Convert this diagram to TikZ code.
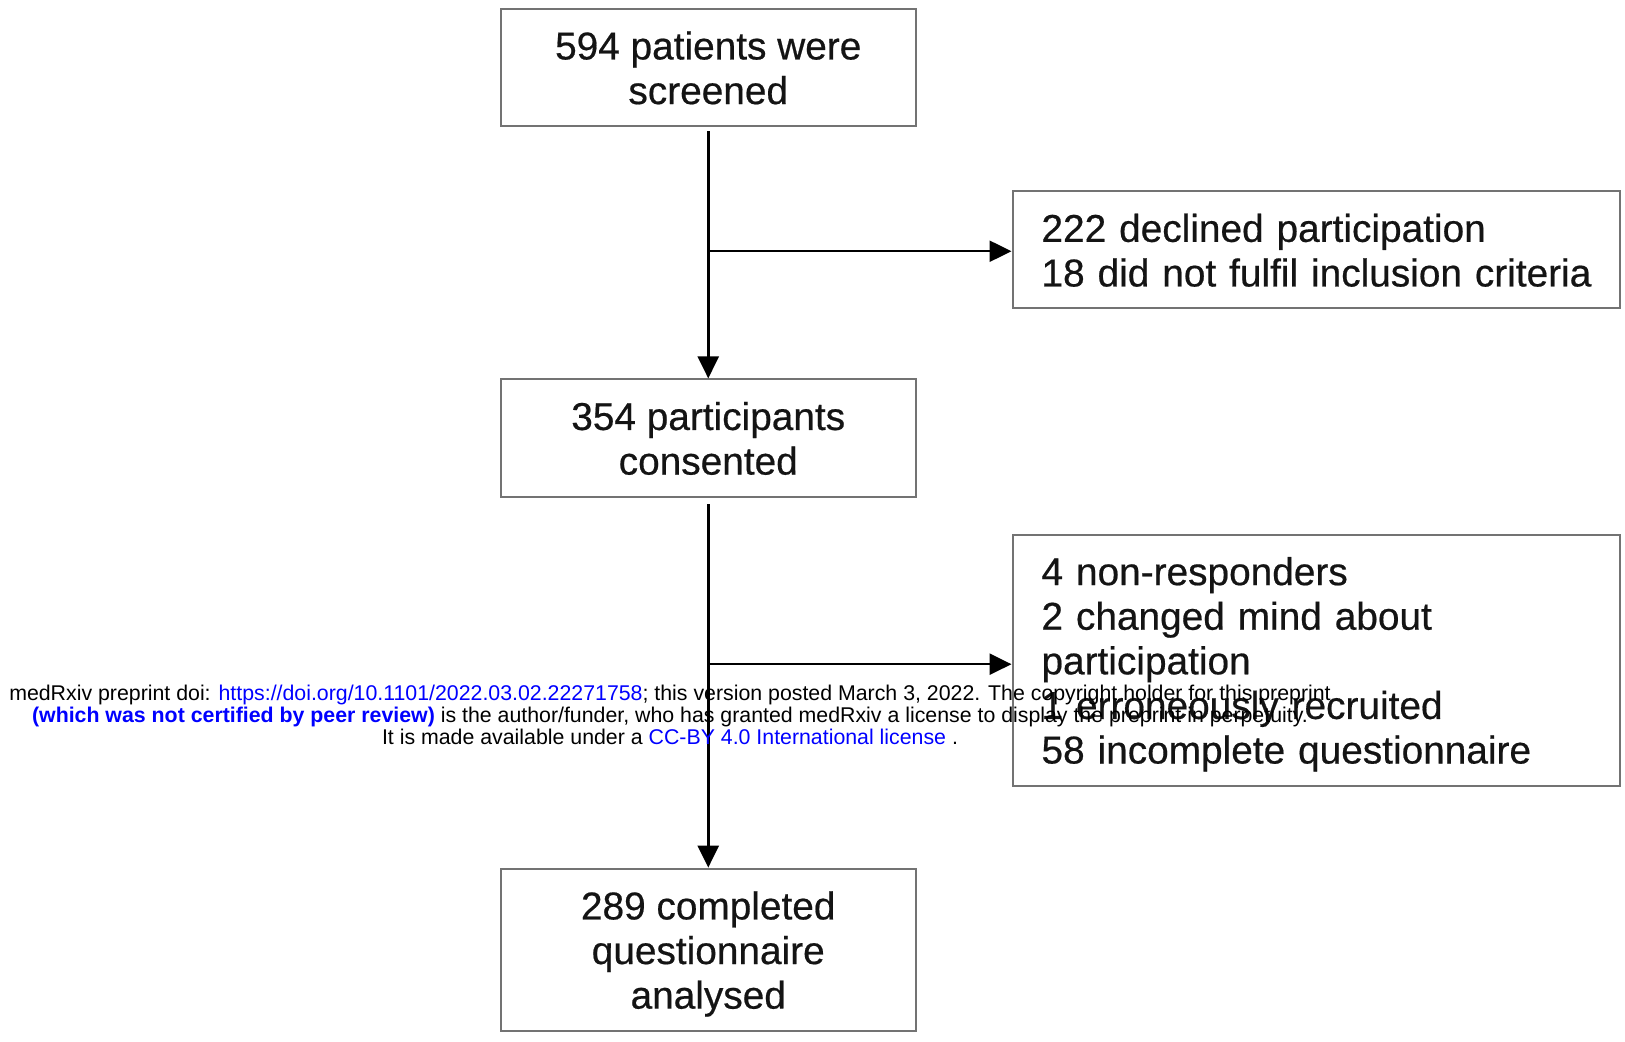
\documentclass[tikz,border=0pt]{standalone}
\usepackage{fontspec}
\setmainfont{Liberation Sans}
\newfontface\boxfont{Liberation Sans}[FakeBold=0.5]
\usetikzlibrary{arrows.meta}
\definecolor{linkblue}{RGB}{0,0,255}
\begin{document}
\begin{tikzpicture}[x=0.5pt,y=-0.5pt,
  box/.style={draw=black!55, line width=1pt, rectangle, inner sep=0pt,
    font=\boxfont\fontsize{19.4}{22.3}\selectfont, text=black!92},
  cbox/.style={box, minimum width=207.75pt, align=center},
  sbox/.style={box, minimum width=303.75pt, text width=274.75pt, align=left},
  flow/.style={line width=1.25pt, -{Triangle[length=11pt,width=10.5pt]}}]
\useasboundingbox (0,0) rectangle (1625,1042);
\fill[white] (0,0) rectangle (1625,1042);
\node[cbox, minimum height=58.5pt] (b1) at (708.25,67.9) {594 patients were\\screened};
\node[sbox, minimum height=58.5pt] (b2) at (1316.25,249.25) {\raisebox{-3pt}[\height][\depth]{\begin{tabular}{@{}l@{}}222 declined participation\\18 did not fulfil inclusion criteria\end{tabular}}};
\node[cbox, minimum height=59pt] (b3) at (708.25,438.4) {354 participants\\consented};
\node[sbox, minimum height=125.4pt] (b4) at (1316.25,660.2) {\raisebox{-2.6pt}[\height][\depth]{\begin{tabular}{@{}l@{}}4 non-responders\\2 changed mind about\\participation\\1 erroneously recruited\\58 incomplete questionnaire\end{tabular}}};
\node[cbox, minimum height=81.3pt] (b5) at (708.25,949.9) {\raisebox{-2.6pt}[\height][\depth]{\begin{tabular}{@{}c@{}}289 completed\\questionnaire\\analysed\end{tabular}}};
\coordinate (j2) at ([yshift=-1pt]b2.west);
\draw[flow, shorten <=2pt] (b1.south) -- (b3.north);
\draw[flow] (b1.south |- j2) -- (j2);
\draw[flow, shorten <=3pt] (b3.south) -- (b5.north);
\coordinate (j4) at ([yshift=-2pt]b4.west);
\draw[flow] (b3.south |- j4) -- (j4);
\node[align=center, font=\fontsize{10.66}{10.85}\selectfont, inner sep=0pt] (wm) at (670,715)
 {medRxiv preprint doi: \textcolor{linkblue}{https://doi.org/10.1101/2022.03.02.22271758}; this version posted March 3, 2022. The copyright holder for this preprint\\
 \textcolor{linkblue}{\bfseries (which was not certified by peer review)} is the author/funder, who has granted medRxiv a license to display the preprint in perpetuity.\\
 It is made available under a \textcolor{linkblue}{CC-BY 4.0 International license} .};
\end{tikzpicture}
\end{document}
